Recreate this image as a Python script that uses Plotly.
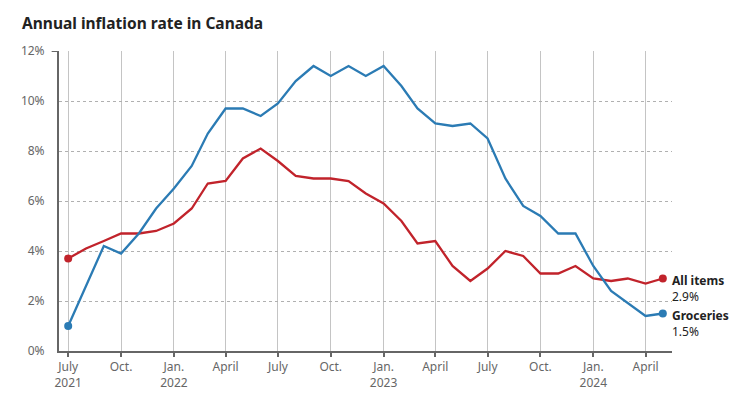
import plotly.graph_objects as go

months = ["2021-07", "2021-08", "2021-09", "2021-10", "2021-11", "2021-12",
          "2022-01", "2022-02", "2022-03", "2022-04", "2022-05", "2022-06",
          "2022-07", "2022-08", "2022-09", "2022-10", "2022-11", "2022-12",
          "2023-01", "2023-02", "2023-03", "2023-04", "2023-05", "2023-06",
          "2023-07", "2023-08", "2023-09", "2023-10", "2023-11", "2023-12",
          "2024-01", "2024-02", "2024-03", "2024-04", "2024-05"]
dates = [m + "-01" for m in months]

all_items = [3.7, 4.1, 4.4, 4.7, 4.7, 4.8,
             5.1, 5.7, 6.7, 6.8, 7.7, 8.1,
             7.6, 7.0, 6.9, 6.9, 6.8, 6.3,
             5.9, 5.2, 4.3, 4.4, 3.4, 2.8,
             3.3, 4.0, 3.8, 3.1, 3.1, 3.4,
             2.9, 2.8, 2.9, 2.7, 2.9]

groceries = [1.0, 2.6, 4.2, 3.9, 4.7, 5.7,
             6.5, 7.4, 8.7, 9.7, 9.7, 9.4,
             9.9, 10.8, 11.4, 11.0, 11.4, 11.0,
             11.4, 10.6, 9.7, 9.1, 9.0, 9.1,
             8.5, 6.9, 5.8, 5.4, 4.7, 4.7,
             3.4, 2.4, 1.9, 1.4, 1.5]

tick_dates = ["2021-07-01", "2021-10-01", "2022-01-01", "2022-04-01", "2022-07-01",
              "2022-10-01", "2023-01-01", "2023-04-01", "2023-07-01", "2023-10-01",
              "2024-01-01", "2024-04-01"]
tick_text = ["July<br>2021", "Oct.", "Jan.<br>2022", "April", "July", "Oct.",
             "Jan.<br>2023", "April", "July", "Oct.", "Jan.<br>2024", "April"]
y_ticks = [0, 2, 4, 6, 8, 10, 12]
y_tick_text = ["0%", "2%", "4%", "6%", "8%", "10%", "12%"]

series_names = ["All items", "Groceries"]
series_values = [all_items, groceries]
colors = ["#c1232b", "#2b7bb4"]
label_y = [2.5, 1.1]

FONT = "Noto Sans"

fig = go.Figure()
for name, vals, col in zip(series_names, series_values, colors):
    fig.add_trace(go.Scatter(
        x=dates, y=vals, mode="lines", name=name,
        line=dict(color=col, width=2.3),
        hoverinfo="skip", showlegend=False))
    fig.add_trace(go.Scatter(
        x=[dates[0], dates[-1]], y=[vals[0], vals[-1]], mode="markers",
        marker=dict(color=col, size=8),
        hoverinfo="skip", showlegend=False))

for name, vals, ly in zip(series_names, series_values, label_y):
    fig.add_annotation(
        x=1, xref="paper", y=ly, yref="y", xanchor="left", yanchor="middle",
        xshift=-2, align="left", showarrow=False,
        text=f"<b>{name}</b><br>{vals[-1]:.1f}%",
        font=dict(family=FONT, size=12, color="#222"))

# small top tick on the y axis (as in the reference)
fig.add_shape(type="line", xref="paper", yref="y", x0=-0.012, x1=0, y0=12, y1=12,
              line=dict(color="#666", width=2))

fig.update_layout(
    width=746, height=412,
    margin=dict(l=59, r=74, t=51, b=61, autoexpand=False),
    paper_bgcolor="white", plot_bgcolor="white",
    title=dict(text="<b>Annual inflation rate in Canada</b>", x=22 / 746,
               xanchor="left", y=1 - 24 / 412, yanchor="middle", yref="container",
               font=dict(family=FONT, size=15.5, color="#222")),
    font=dict(family=FONT, size=12, color="#666"),
)

fig.update_xaxes(
    type="date", range=["2021-06-15", "2024-05-17"],
    tickvals=tick_dates, ticktext=tick_text,
    showgrid=True, gridcolor="#c4c4c4", gridwidth=1,
    showline=True, linecolor="#666", linewidth=2,
    ticks="outside", ticklen=4, tickwidth=2, tickcolor="#666",
    tickfont=dict(family=FONT, size=12, color="#666"),
    zeroline=False, fixedrange=True, automargin=False)

fig.update_yaxes(
    range=[0, 12], tickvals=y_ticks, ticktext=y_tick_text,
    showgrid=True, gridcolor="#b0b0b0", gridwidth=1, griddash="dot",
    showline=True, linecolor="#666", linewidth=2,
    ticks="", ticklabelstandoff=10,
    tickfont=dict(family=FONT, size=12, color="#666"),
    zeroline=False, fixedrange=True, automargin=False)

fig.write_html("out.html", config={"displayModeBar": False},
               post_script="document.body.style.margin='0';document.body.style.overflow='hidden';")
